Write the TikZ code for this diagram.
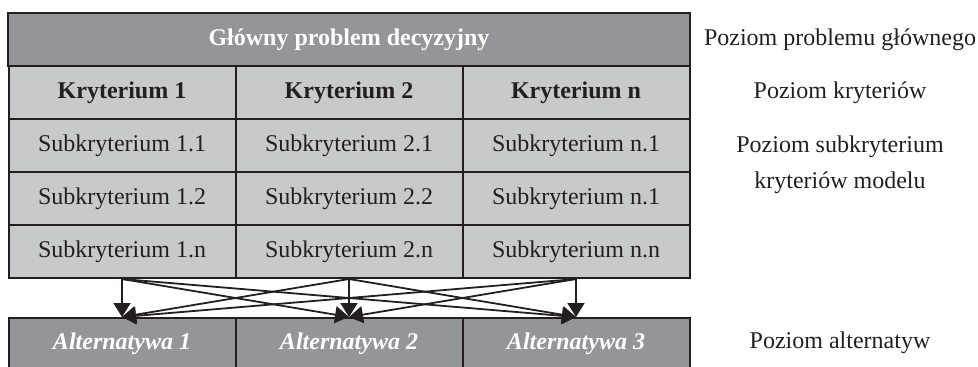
\documentclass[tikz,border=0pt]{standalone}
\usepackage{fontspec}
\setmainfont{Liberation Serif}
\usetikzlibrary{arrows.meta}
\definecolor{darkcell}{HTML}{939598}
\definecolor{lightcell}{HTML}{C8C9CB}
\definecolor{ink}{HTML}{231F20}
\tikzset{
  cell/.style={draw=ink, line width=2pt, inner sep=0pt, minimum width=227pt,
    minimum height=53pt, fill=lightcell, text=ink, font=\fontsize{24}{28}\selectfont},
  headcell/.style={cell, fill=darkcell, text=white, minimum width=682pt,
    font=\fontsize{24}{28}\selectfont\bfseries},
  critcell/.style={cell, font=\fontsize{24}{28}\selectfont\bfseries},
  altcell/.style={cell, fill=darkcell, text=white, minimum height=52pt,
    font=\fontsize{24}{28}\selectfont\bfseries\itshape},
  levellabel/.style={text=ink, align=center, font=\fontsize{24}{36}\selectfont},
  link/.style={draw=ink, line width=1.8pt, -{Triangle[length=14pt,width=17pt]}},
}
\begin{document}
\begin{tikzpicture}[x=1pt,y=-1pt]
\useasboundingbox (0,0) rectangle (978,367);

% decision problem
\node[headcell] (goal) at (349,39.5) {Główny problem decyzyjny};

% criteria
\node[critcell] (k1) at (122,92.5) {Kryterium 1};
\node[critcell] (k2) at (349,92.5) {Kryterium 2};
\node[critcell] (kn) at (576,92.5) {Kryterium n};

% sub-criteria
\node[cell] (s11) at (122,145.5) {Subkryterium 1.1};
\node[cell] (s21) at (349,145.5) {Subkryterium 2.1};
\node[cell] (sn1) at (576,145.5) {Subkryterium n.1};
\node[cell] (s12) at (122,198.5) {Subkryterium 1.2};
\node[cell] (s22) at (349,198.5) {Subkryterium 2.2};
\node[cell] (sn2) at (576,198.5) {Subkryterium n.1};
\node[cell] (s1n) at (122,251.5) {Subkryterium 1.n};
\node[cell] (s2n) at (349,251.5) {Subkryterium 2.n};
\node[cell] (snn) at (576,251.5) {Subkryterium n.n};

% alternatives
\node[altcell] (a1) at (122,344) {Alternatywa 1};
\node[altcell] (a2) at (349,344) {Alternatywa 2};
\node[altcell] (a3) at (576,344) {Alternatywa 3};

% every sub-criterion column feeds every alternative
\foreach \src in {s1n,s2n,snn}
  \foreach \dst in {a1,a2,a3}
    \draw[link] (\src.south) -- (\dst.north);

% level descriptions
\node[levellabel] (lgoal) at (840,40) {Poziom problemu głównego};
\node[levellabel] (lcrit) at (840,93) {Poziom kryteriów};
\node[levellabel] (lsub) at (840,165) {Poziom subkryterium\\kryteriów modelu};
\node[levellabel] (lalt) at (840,343) {Poziom alternatyw};
\end{tikzpicture}
\end{document}
